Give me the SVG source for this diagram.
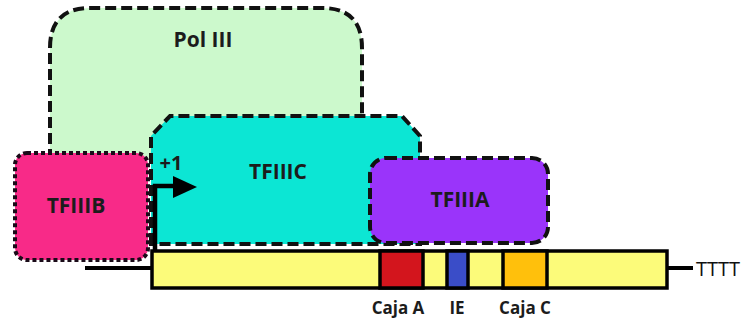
<svg xmlns="http://www.w3.org/2000/svg" width="747" height="322" viewBox="0 0 747 322">
<style>
.lbl{font-family:"Open Sans","Liberation Sans",sans-serif;font-weight:bold;fill:#1c1c1c;text-anchor:middle}
.big{font-size:21px}
.sm{font-size:17px}
.dash{stroke:#111;stroke-width:4;stroke-dasharray:11 5}
.dot{stroke:#1a0a18;stroke-width:4;stroke-dasharray:4 3}
.seg{stroke:#000;stroke-width:3.5}
</style>
<g id="pol3">
<path d="M50,160 V48 Q50,8 90,8 H322 Q362,8 362,48 V160" fill="#ccf9cc" class="dash"/>
<text class="lbl big" x="203" y="47">Pol III</text>
</g>
<g id="tfiiic">
<path d="M151,244 V136 L170,116 H402 L420,136 V244 Z" fill="#0ce6d4" class="dash"/>
<text class="lbl big" x="278" y="179">TFIIIC</text>
</g>
<g id="tfiiib">
<rect x="15" y="153" width="133" height="107" rx="12" fill="#f82a88" class="dot"/>
<text class="lbl big" x="76" y="213">TFIIIB</text>
</g>
<g id="tfiiia">
<rect x="370" y="158" width="178" height="85" rx="16" fill="#9a34fa" class="dash"/>
<text class="lbl big" x="460" y="207">TFIIIA</text>
</g>
<g id="dna">
<line x1="85" y1="268" x2="152" y2="268" stroke="#000" stroke-width="4"/>
<line x1="667" y1="268" x2="693" y2="268" stroke="#000" stroke-width="4"/>
<rect x="152" y="251" width="515" height="37" fill="#fcfb7a" stroke="#000" stroke-width="3.5"/>
<rect x="380" y="251" width="43" height="37" fill="#d3151d" class="seg"/>
<rect x="447" y="251" width="21" height="37" fill="#3a4dc8" class="seg"/>
<rect x="503" y="251" width="44" height="37" fill="#ffc00c" class="seg"/>
<text x="718" y="276" style="font-family:'Open Sans','Liberation Sans',sans-serif;font-size:20px;fill:#111;text-anchor:middle">TTTT</text>
</g>
<g id="labels">
<text class="lbl sm" x="398" y="314">Caja A</text>
<text class="lbl sm" x="457" y="314">IE</text>
<text class="lbl sm" x="525" y="314">Caja C</text>
</g>
<g id="connectors">
<path d="M155,251 V186 H176" fill="none" stroke="#000" stroke-width="4.5"/>
<polygon points="173,176 197,187 173,198" fill="#000"/>
<text class="lbl" x="171" y="170" style="font-size:20px">+1</text>
</g>
</svg>
